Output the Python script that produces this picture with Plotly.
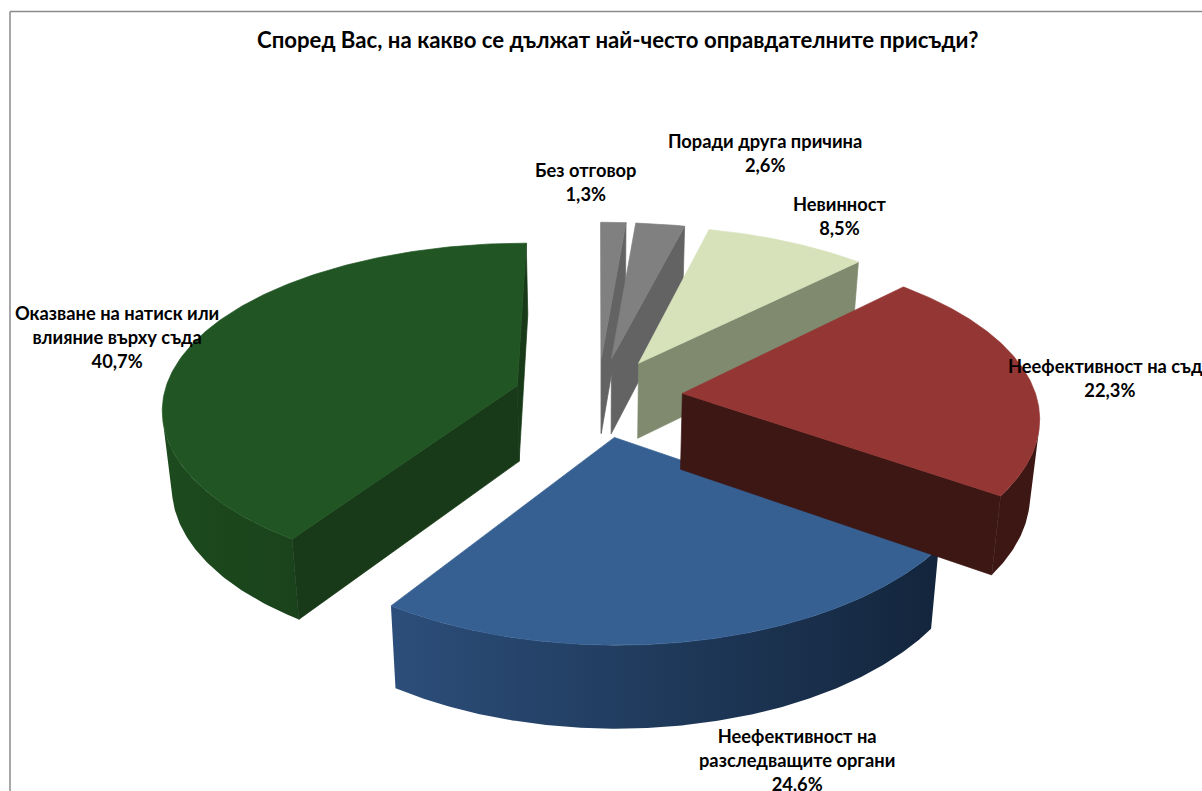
import numpy as np
import plotly.graph_objects as go

# ---- data (order: clockwise, starting at the top of the pie) ----
categories = ["Без отговор", "Поради друга причина", "Невинност",
              "Неефективност на съда", "Неефективност на<br>разследващите органи",
              "Оказване на натиск или<br>влияние върху съда"]
values = [1.3, 2.6, 8.5, 22.3, 24.6, 40.7]

top_colors = ["#808080", "#808080", "#d7e2bb", "#943634", "#366092", "#215624"]
cut_colors = ["#636363", "#636363", "#7f8a6f", "#3c1714", "#2a4a73", "#193a18"]
rim_stops = [("#707070", "#707070"), ("#707070", "#707070"), ("#7f8a6f", "#7f8a6f"),
             ("#3c1714", "#3c1714"), ("#2c4e7a", "#13253c"), ("#1d4a1e", "#1a431b")]
label_xy = [(586, 182), (765, 153), (840, 216), (1110, 378), (797, 760), (117, 337)]
draw_order = [0, 1, 2, 5, 4, 3]

# ---- projection of the 3-D pie ----
CX, CY = 598, 397      # pie centre
A, B = 354, 165.7      # horizontal / depth scale
PX, PY = 0.125, 0.1416 # perspective strength
EXPLODE = 0.24         # slice offset, fraction of radius
DEPTH = 76             # wall height


def project(u, v):
    return CX + A * u / (1 + PX * v), CY - B * v / (1 + PY * v)


def lower(x, y):
    return CX + (x - CX) * 0.978, y + DEPTH + 0.03 * (y - CY)


def area(xs, ys):
    xs, ys = np.asarray(xs), np.asarray(ys)
    return 0.5 * np.sum(xs * np.roll(ys, -1) - np.roll(xs, -1) * ys)


fig = go.Figure()


def poly(xs, ys, color=None, grad=None):
    xs, ys = list(xs), list(ys)
    kw = dict(x=xs + xs[:1], y=ys + ys[:1], mode="lines",
              fill="toself", hoverinfo="skip", showlegend=False)
    if grad:
        kw["fillgradient"] = dict(type="horizontal", colorscale=[[0, grad[0]], [1, grad[1]]])
        kw["line"] = dict(width=0)
    else:
        kw["fillcolor"] = color
        kw["line"] = dict(width=0.7, color=color)
    fig.add_trace(go.Scatter(**kw))


edges = np.concatenate([[0], np.cumsum(values)]) / sum(values) * 2 * np.pi
geom = []
for i in range(len(values)):
    a0, a1 = edges[i], edges[i + 1]
    mid = (a0 + a1) / 2
    ex, ey = EXPLODE * np.sin(mid), EXPLODE * np.cos(mid)
    t = np.linspace(a0, a1, 200)
    ax, ay = project(ex + np.sin(t), ey + np.cos(t))
    px, py = project(ex, ey)
    geom.append((t, ax, ay, px, py))

for i in draw_order:
    t, ax, ay, px, py = geom[i]
    lx, ly = lower(ax, ay)
    plx, ply = lower(px, py)
    # outer rim: keep only where it faces the viewer, so the ends are true silhouettes
    cross = np.gradient(ax) * (ly - ay) - np.gradient(ay) * (lx - ax)
    mask = cross < 0
    if mask.sum() > 1:
        poly(np.r_[ax[mask], lx[mask][::-1]], np.r_[ay[mask], ly[mask][::-1]],
             grad=rim_stops[i])
    # radial cut faces, drawn when they face the viewer
    ref = area(np.r_[px, ax], np.r_[py, ay])
    for k, sign in ((0, -1), (-1, 1)):
        qx = [px, ax[k], lx[k], plx]
        qy = [py, ay[k], ly[k], ply]
        if area(qx, qy) * ref * sign > 0:
            poly(qx, qy, cut_colors[i])
    poly(np.r_[px, ax], np.r_[py, ay], top_colors[i])

FONT = "Lato, Carlito, Calibri, sans-serif"
for cat, val, (x, y) in zip(categories, values, label_xy):
    pct = f"{val:.1f}".replace(".", ",") + "%"
    fig.add_annotation(x=x, y=y, text=f"<b>{cat}<br>{pct}</b>", showarrow=False,
                       xanchor="center", yanchor="middle", align="center",
                       font=dict(family=FONT, size=18.3, color="#000000"))

fig.add_annotation(x=617.5, y=39, text="<b>Според Вас, на какво се дължат най-често оправдателните присъди?</b>",
                   showarrow=False, xanchor="center", yanchor="middle",
                   font=dict(family=FONT, size=22.2, color="#000000"))

fig.add_shape(type="line", x0=10, x1=1202, y0=11.5, y1=11.5, line=dict(color="#8a8a8a", width=1.5))
fig.add_shape(type="line", x0=10, x1=10, y0=11.5, y1=791, line=dict(color="#8a8a8a", width=1.5))

fig.update_layout(width=1202, height=791, margin=dict(l=0, r=0, t=0, b=0),
                  paper_bgcolor="white", plot_bgcolor="white", showlegend=False,
                  xaxis=dict(range=[0, 1202], visible=False, fixedrange=True),
                  yaxis=dict(range=[791, 0], visible=False, fixedrange=True))

fig.write_html("out.html", config={"displayModeBar": False},
               post_script="document.body.style.margin='0';document.documentElement.style.overflow='hidden';")
